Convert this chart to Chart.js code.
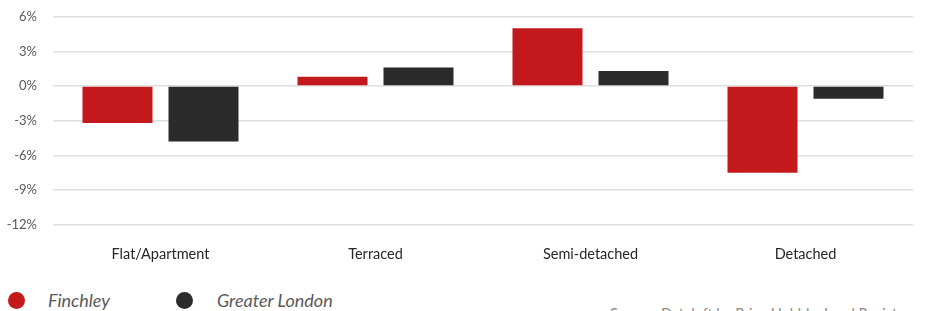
<!DOCTYPE html>
<html>
<head>
<meta charset="utf-8">
<script src="https://cdn.jsdelivr.net/npm/chart.js@4/dist/chart.umd.min.js"></script>
<style>
  body { margin: 0; background: #fff; width: 925px; height: 311px; overflow: hidden; position: relative; font-family: Lato, "Open Sans", sans-serif; }
  #wrap { position: absolute; left: 0; top: -7px; width: 925px; height: 283px; }
  .legend { position: absolute; top: 289px; font-style: italic; font-size: 18px; color: #595959; }
  .dot { position: absolute; top: 292px; width: 17px; height: 17px; border-radius: 50%; }
  .source { position: absolute; left: 610px; top: 305px; font-size: 14.5px; color: #8c8c8c; white-space: nowrap; }
</style>
</head>
<body>
<div id="wrap"><canvas id="chart" width="925" height="283"></canvas></div>
<div class="dot" style="left:8px; background:#c4191c"></div>
<div class="legend" style="left:48px">Finchley</div>
<div class="dot" style="left:176px; background:#2b2b2b"></div>
<div class="legend" style="left:217px">Greater London</div>
<div class="source">Source: Dataloft by Price Hubble, Land Registry</div>
<script>
// Chart data
const categories = ['Flat/Apartment', 'Terraced', 'Semi-detached', 'Detached'];
const finchley = [-3.2, 0.8, 5.0, -7.5];
const greaterLondon = [-4.8, 1.6, 1.3, -1.1];
const yTicks = [6, 3, 0, -3, -6, -9, -12];

const ctx = document.getElementById('chart');
new Chart(ctx, {
    type: 'bar',
    data: {
        labels: categories,
        datasets: [
            {
                label: 'Finchley',
                data: finchley,
                backgroundColor: '#c4191c',
                categoryPercentage: 0.8,
                barPercentage: 0.814
            },
            {
                label: 'Greater London',
                data: greaterLondon,
                backgroundColor: '#2b2b2b',
                categoryPercentage: 0.8,
                barPercentage: 0.814
            }
        ]
    },
    options: {
        responsive: false,
        animation: false,
        layout: { padding: { top: 0, right: 12, left: 0, bottom: 0 } },
        plugins: {
            legend: { display: false },
            tooltip: { enabled: false }
        },
        scales: {
            x: {
                grid: { display: false },
                border: { display: false },
                ticks: {
                    color: '#262626',
                    font: { family: 'Lato', size: 14.5 },
                    padding: 13
                }
            },
            y: {
                min: Math.min(...yTicks),
                max: Math.max(...yTicks),
                afterBuildTicks: function(scale) {
                    scale.ticks = yTicks.map(v => ({ value: v }));
                },
                afterFit: function(scale) {
                    scale.width = 53;
                },
                grid: { color: '#dedede', lineWidth: 1.5, drawTicks: false },
                border: { display: false },
                ticks: {
                    color: '#595959',
                    font: { family: 'Lato', size: 13 },
                    padding: 16,
                    callback: v => v + '%'
                }
            }
        }
    }
});
</script>
</body>
</html>
